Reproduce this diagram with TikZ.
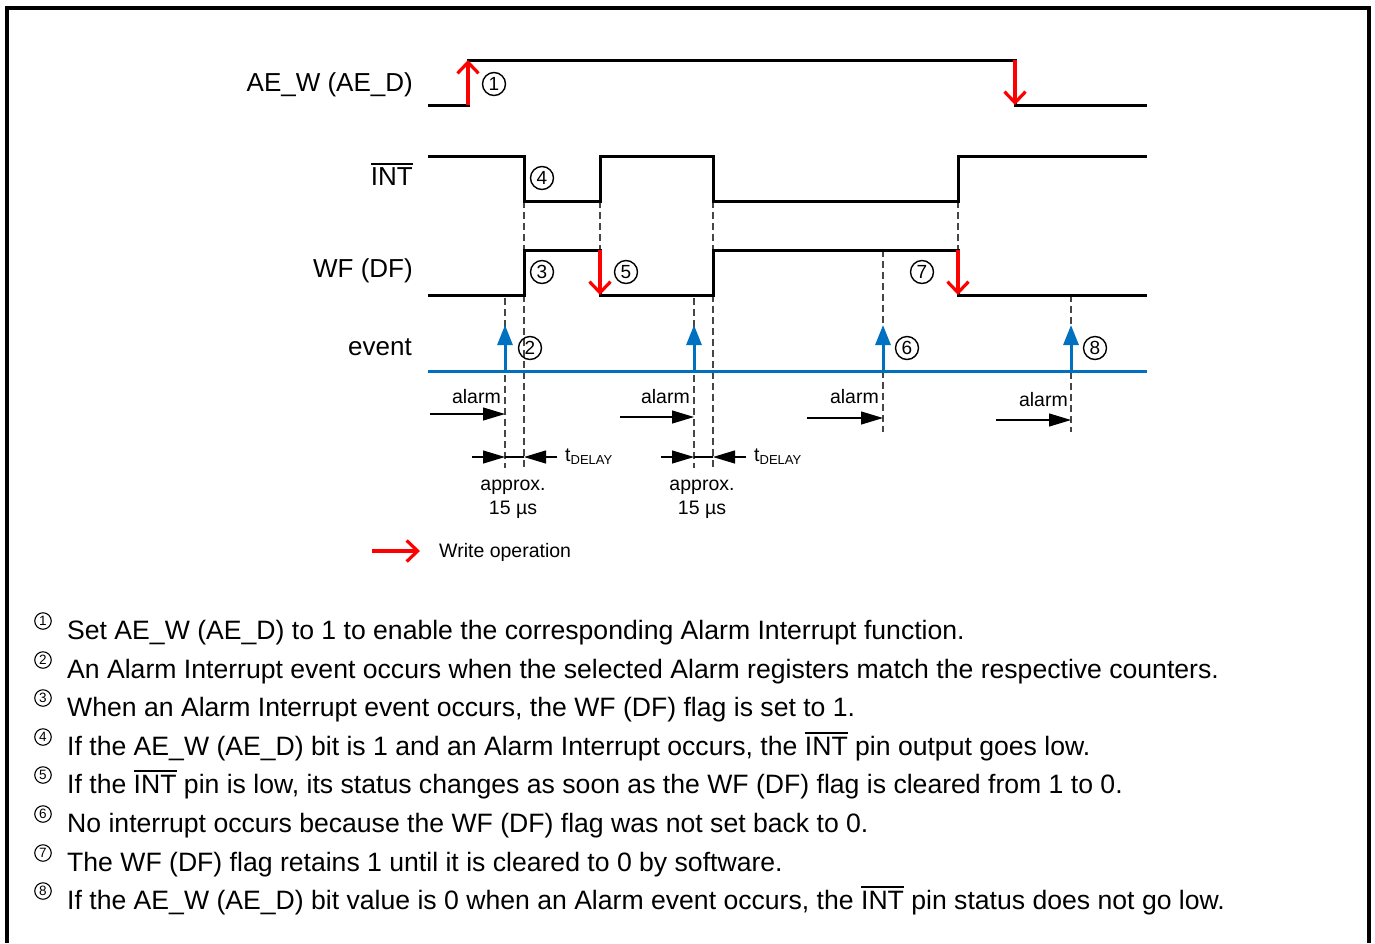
\documentclass[tikz,border=0pt]{standalone}
\usepackage{fontspec}
\setmainfont{Liberation Sans}
\usetikzlibrary{arrows.meta}
\definecolor{evblue}{RGB}{0,112,192}
\definecolor{dashgray}{RGB}{70,70,70}
\newcommand{\barsig}[1]{\setbox0=\hbox{#1}\rlap{\rule[\dimexpr\ht0+0.1em\relax]{\wd0}{0.07em}}\box0\relax}

\begin{document}
\begin{tikzpicture}[x=1pt,y=-1pt,line join=miter,
	signal/.style={line width=3pt},
	writearr/.style={red,line width=3.2pt,-{Straight Barb[length=11pt,width=21pt,line width=3.2pt]}},
	eventarr/.style={evblue,line width=3pt,-{Triangle[length=20pt,width=15pt]}},
	guide/.style={dashgray,line width=1.1pt,dash pattern=on 7pt off 4pt},
	thinarr/.style={line width=1.1pt,-{Triangle[length=22pt,width=13pt]}},
	siglabel/.style={anchor=base east,font=\fontsize{26}{30}\selectfont,inner sep=0pt},
	num/.style={circle,draw,line width=1.4pt,minimum size=23pt,inner sep=0pt,font=\fontsize{19}{20}\selectfont},
	notenum/.style={circle,draw,line width=1.1pt,minimum size=16.5pt,inner sep=0pt,font=\fontsize{13.5}{14}\selectfont},
	smalltext/.style={font=\fontsize{19.5}{24}\selectfont,inner sep=0pt},
	note/.style={anchor=base west,font=\fontsize{26.6}{30}\selectfont,inner sep=0pt}]
	\useasboundingbox (0,0) rectangle (1375,943);
	% frame
	\draw [line width=3.5pt] (7,943) -- (7,8) -- (1369,8) -- (1369,943);
	% signal names
	\node [siglabel] (aew) at (413,91) {AE\_W (AE\_D)};
	\node [siglabel] (int) at (413,185) {\barsig{INT}};
	\node [siglabel] (wf) at (413,277) {WF (DF)};
	\node [siglabel] (event) at (412,355) {event};
	% guide lines
	\draw [guide] (524,201) -- (524,250);
	\draw [guide] (524,295) -- (524,468);
	\draw [guide] (505,298) -- (505,468);
	\draw [guide] (600,201) -- (600,250);
	\draw [guide] (713,201) -- (713,250);
	\draw [guide] (713,295) -- (713,468);
	\draw [guide] (694,298) -- (694,468);
	\draw [guide] (958,201) -- (958,250);
	\draw [guide] (883,250) -- (883,432);
	\draw [guide] (1071,295) -- (1071,432);
	% waveforms
	\draw [signal] (428,105) -- (468,105) -- (468,60) -- (1015,60) -- (1015,105) -- (1147,105);
	\draw [signal] (428,156) -- (524,156) -- (524,201) -- (600,201) -- (600,156) -- (713,156) -- (713,201) -- (958,201) -- (958,156) -- (1147,156);
	\draw [signal] (428,295) -- (524,295) -- (524,250) -- (600,250) -- (600,295) -- (713,295) -- (713,250) -- (958,250) -- (958,295) -- (1147,295);
	\draw [evblue,line width=3pt] (428,371) -- (1147,371);
	% write operations
	\draw [writearr] (468,105) -- (468,60);
	\draw [writearr] (1015,60) -- (1015,105);
	\draw [writearr] (600,250) -- (600,295);
	\draw [writearr] (958,250) -- (958,295);
	% alarm events
	\foreach \x in {505,694,883,1071}
		\draw [eventarr] (\x,371) -- (\x,325);
	% step numbers
	\node [num] (n1) at (494,84) {1};
	\node [num] (n4) at (542,178) {4};
	\node [num] (n3) at (542,272) {3};
	\node [num] (n5) at (626,272) {5};
	\node [num] (n7) at (922,272) {7};
	\node [num] (n2) at (530,348) {2};
	\node [num] (n6) at (907,348) {6};
	\node [num] (n8) at (1095,348) {8};
	% alarm arrows
	\node [smalltext,anchor=base east] (alarmA) at (501,403) {alarm};
	\node [smalltext,anchor=base east] (alarmB) at (690,403) {alarm};
	\node [smalltext,anchor=base east] (alarmC) at (879,403) {alarm};
	\node [smalltext,anchor=base east] (alarmD) at (1068,406) {alarm};
	\draw [thinarr] (430,414) -- (505,414);
	\draw [thinarr] (620,417) -- (694,417);
	\draw [thinarr] (807,418) -- (883,418);
	\draw [thinarr] (996,420) -- (1071,420);
	% delay marks
	\draw [thinarr] (472,457) -- (505,457);
	\draw [line width=1.1pt] (505,457) -- (524,457);
	\draw [thinarr] (557,457) -- (524,457);
	\draw [thinarr] (661,457) -- (694,457);
	\draw [line width=1.1pt] (694,457) -- (713,457);
	\draw [thinarr] (746,457) -- (713,457);
	\node [smalltext,anchor=base west] (delayA) at (565,461) {t\raisebox{-3pt}{\fontsize{13}{15}\selectfont DELAY}};
	\node [smalltext,anchor=base west] (delayB) at (754,461) {t\raisebox{-3pt}{\fontsize{13}{15}\selectfont DELAY}};
	\node [smalltext,anchor=base,align=center] (apprA) at (513,514) {approx.\\15 µs};
	\node [smalltext,anchor=base,align=center] (apprB) at (702,514) {approx.\\15 µs};
	% legend
	\draw [writearr] (372,551) -- (420,551);
	\node [smalltext,anchor=base west] (legend) at (439,557) {Write operation};
	% notes
	\node [notenum] (m1) at (43,621) {1};
	\node [note] (t1) at (67,639) {Set AE\_W (AE\_D) to 1 to enable the corresponding Alarm Interrupt function.};
	\node [notenum] (m2) at (43,660) {2};
	\node [note] (t2) at (67,678) {An Alarm Interrupt event occurs when the selected Alarm registers match the respective counters.};
	\node [notenum] (m3) at (43,698) {3};
	\node [note] (t3) at (67,716) {When an Alarm Interrupt event occurs, the WF (DF) flag is set to 1.};
	\node [notenum] (m4) at (43,737) {4};
	\node [note] (t4) at (67,755) {If the AE\_W (AE\_D) bit is 1 and an Alarm Interrupt occurs, the \barsig{INT} pin output goes low.};
	\node [notenum] (m5) at (43,775) {5};
	\node [note] (t5) at (67,793) {If the \barsig{INT} pin is low, its status changes as soon as the WF (DF) flag is cleared from 1 to 0.};
	\node [notenum] (m6) at (43,814) {6};
	\node [note] (t6) at (67,832) {No interrupt occurs because the WF (DF) flag was not set back to 0.};
	\node [notenum] (m7) at (43,853) {7};
	\node [note] (t7) at (67,871) {The WF (DF) flag retains 1 until it is cleared to 0 by software.};
	\node [notenum] (m8) at (43,891) {8};
	\node [note] (t8) at (67,909) {If the AE\_W (AE\_D) bit value is 0 when an Alarm event occurs, the \barsig{INT} pin status does not go low.};
\end{tikzpicture}
\end{document}
